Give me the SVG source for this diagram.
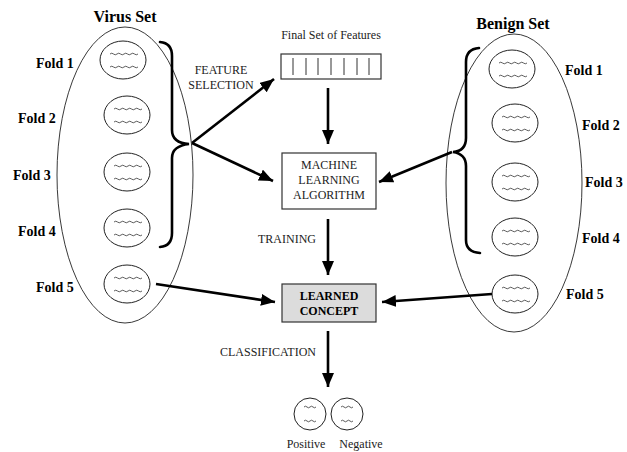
<svg xmlns="http://www.w3.org/2000/svg" xmlns:xlink="http://www.w3.org/1999/xlink" width="627" height="452" viewBox="0 0 627 452">
<style>
.bg{fill:#fff}
.set{fill:none;stroke:#222;stroke-width:0.9}
.fold{fill:#fff;stroke:#222;stroke-width:1}
.wave{fill:none;stroke:#333;stroke-width:0.8}
.brace{fill:none;stroke:#000;stroke-width:2.6;stroke-linecap:round}
.conn{fill:none;stroke:#000;stroke-width:2.6}
.box{fill:#fff;stroke:#333;stroke-width:1.2}
.lc{fill:#dcdcdc;stroke:#333;stroke-width:1.2}
.t{font-family:"Liberation Serif","Times New Roman",serif;font-size:12px;fill:#222}
.b{font-family:"Liberation Serif","Times New Roman",serif;font-weight:bold;fill:#000}
.fl{font-size:14px}
.ttl{font-size:16px}
.mid{text-anchor:middle}
</style>
<defs>
<marker id="ah" markerUnits="userSpaceOnUse" markerWidth="16" markerHeight="14" refX="14" refY="6" orient="auto">
<path d="M0,0 L14,6 L0,12 Z" fill="#000"/>
</marker>
<path id="wv" class="wave" d="M-13,0 q1.75,-1.6 3.5,0 t3.5,0 t3.5,0 t3.5,0 t3.5,0 t3.5,0 t3.5,0 t3.5,0"/>
<path id="sw" class="wave" d="M-6,0 q1.5,-1.6 3,0 t3,0 t3,0 t3,0"/>
<g id="foldshape">
<ellipse class="fold" cx="0" cy="0" rx="23" ry="19"/>
<use xlink:href="#wv" y="-6"/>
<use xlink:href="#wv" y="7"/>
</g>
</defs>
<rect class="bg" x="0" y="0" width="627" height="452"/>

<g id="virus-set">
<ellipse class="set" cx="125" cy="175" rx="68" ry="148"/>
<text class="b ttl mid" x="125" y="22">Virus Set</text>
</g>
<g id="virus-fold1"><use xlink:href="#foldshape" x="123" y="60"/><text class="b fl" x="36" y="68">Fold 1</text></g>
<g id="virus-fold2"><use xlink:href="#foldshape" x="127" y="115"/><text class="b fl" x="18" y="123">Fold 2</text></g>
<g id="virus-fold3"><use xlink:href="#foldshape" x="127" y="172"/><text class="b fl" x="13" y="180">Fold 3</text></g>
<g id="virus-fold4"><use xlink:href="#foldshape" x="127" y="228"/><text class="b fl" x="18" y="236">Fold 4</text></g>
<g id="virus-fold5"><use xlink:href="#foldshape" x="127" y="284"/><text class="b fl" x="36" y="292">Fold 5</text></g>
<g id="virus-brace">
<path class="brace" d="M160,42 Q172,43 172,56 L172,130 Q172,143 189,144 Q172,146 172,158 L172,233 Q172,246 160,247"/>
</g>

<g id="benign-set">
<ellipse class="set" cx="514" cy="183" rx="68" ry="149"/>
<text class="b ttl mid" x="513" y="29">Benign Set</text>
</g>
<g id="benign-fold1"><use xlink:href="#foldshape" x="512" y="69"/><text class="b fl" x="565" y="75">Fold 1</text></g>
<g id="benign-fold2"><use xlink:href="#foldshape" x="515" y="123"/><text class="b fl" x="582" y="130">Fold 2</text></g>
<g id="benign-fold3"><use xlink:href="#foldshape" x="515" y="182"/><text class="b fl" x="585" y="187">Fold 3</text></g>
<g id="benign-fold4"><use xlink:href="#foldshape" x="515" y="237"/><text class="b fl" x="582" y="243">Fold 4</text></g>
<g id="benign-fold5"><use xlink:href="#foldshape" x="515" y="294"/><text class="b fl" x="566" y="299">Fold 5</text></g>
<g id="benign-brace">
<path class="brace" d="M479,48 Q466,49 466,62 L466,138 Q466,151 453,152 Q466,154 466,166 L466,240 Q466,252 480,253"/>
</g>

<g id="features">
<text class="t mid" x="331" y="39">Final Set of Features</text>
<rect class="box" x="281" y="54" width="100" height="25"/>
<path stroke="#333" stroke-width="1" d="M293,58V75M306,58V75M318,58V75M331,58V75M344,58V75M357,58V75M369,58V75"/>
</g>
<g id="ml-algorithm">
<rect class="box" x="282" y="153" width="94" height="56"/>
<text class="t mid" x="329" y="169">MACHINE</text>
<text class="t mid" x="329" y="184">LEARNING</text>
<text class="t mid" x="329" y="199">ALGORITHM</text>
</g>
<g id="learned-concept">
<rect class="lc" x="282" y="284" width="94" height="38"/>
<text class="b mid" font-size="12" x="329" y="300">LEARNED</text>
<text class="b mid" font-size="12" x="329" y="315">CONCEPT</text>
</g>
<g id="positive">
<circle class="fold" cx="310" cy="414" r="16"/>
<use xlink:href="#sw" x="310" y="407"/>
<use xlink:href="#sw" x="310" y="421"/>
<text class="t mid" x="306" y="448">Positive</text>
</g>
<g id="negative">
<circle class="fold" cx="347" cy="414" r="16"/>
<use xlink:href="#sw" x="347" y="407"/>
<use xlink:href="#sw" x="347" y="421"/>
<text class="t mid" x="361" y="448">Negative</text>
</g>

<g id="connectors">
<line class="conn" x1="192" y1="143" x2="274" y2="79" marker-end="url(#ah)"/>
<line class="conn" x1="192" y1="143" x2="273" y2="181" marker-end="url(#ah)"/>
<line class="conn" x1="452" y1="152" x2="379" y2="182" marker-end="url(#ah)"/>
<line class="conn" x1="328" y1="88" x2="328" y2="144" marker-end="url(#ah)"/>
<line class="conn" x1="328" y1="219" x2="328" y2="275" marker-end="url(#ah)"/>
<line class="conn" x1="328" y1="331" x2="328" y2="387" marker-end="url(#ah)"/>
<line class="conn" x1="156" y1="284" x2="275" y2="302" marker-end="url(#ah)"/>
<line class="conn" x1="492" y1="294" x2="382" y2="302" marker-end="url(#ah)"/>
<text class="t mid" x="221" y="74">FEATURE</text>
<text class="t mid" x="221" y="89">SELECTION</text>
<text class="t mid" x="287" y="243">TRAINING</text>
<text class="t mid" x="268" y="356">CLASSIFICATION</text>
</g>
</svg>
